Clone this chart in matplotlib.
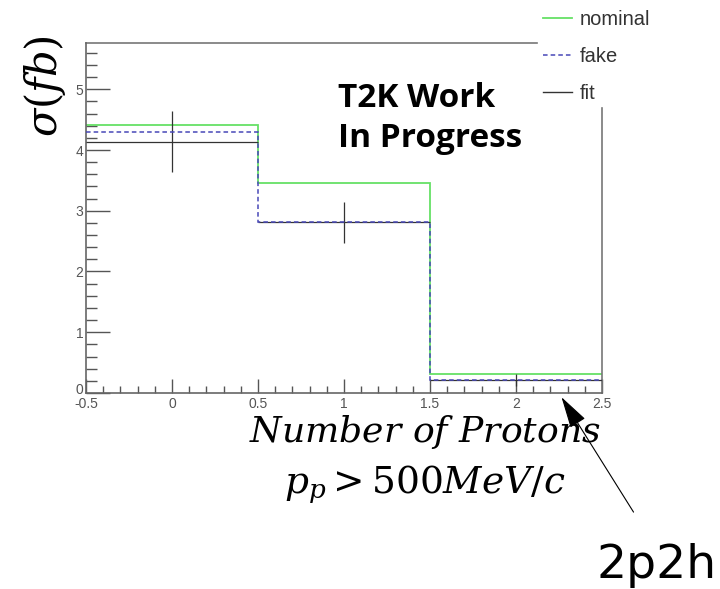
import numpy as np
import matplotlib
matplotlib.use("Agg")
import matplotlib.pyplot as plt
import matplotlib.transforms as mtransforms
from matplotlib.ticker import MultipleLocator
from matplotlib.lines import Line2D

plt.rcParams['mathtext.fontset'] = 'dejavuserif'

# bin edges and contents
bin_edges = [-0.5, 0.5, 1.5, 2.5]
bin_centers = [0, 1, 2]
nominal = [4.42, 3.46, 0.32]
fake = [4.30, 2.81, 0.21]
fit = [4.14, 2.81, 0.21]
fit_err = [0.50, 0.34, 0.10]

green = '#66e066'
blue = '#4848b8'
dark = '#333333'

fig = plt.figure(figsize=(7.2, 5.89), dpi=100)
ax = fig.add_axes([0.1194, 0.3328, 0.7167, 0.594])

ax.stairs(nominal, bin_edges, baseline=None, color=green, lw=1.3, zorder=2)
ax.errorbar(bin_centers, fit, xerr=0.5, yerr=fit_err, fmt='none', ecolor=dark,
            elinewidth=0.9, capsize=0, zorder=3)
ax.stairs(fake, bin_edges, baseline=None, color=blue, lw=1.1, ls=(0, (3, 2)), zorder=4)

ax.set_xlim(-0.5, 2.5)
ax.set_ylim(0, 5.76)

# ROOT-like axes
ax.xaxis.set_minor_locator(MultipleLocator(0.1))
ax.yaxis.set_minor_locator(MultipleLocator(0.2))
ax.set_xticks([-0.5, 0, 0.5, 1, 1.5, 2, 2.5])
ax.set_xticklabels(['-0.5', '0', '0.5', '1', '1.5', '2', '2.5'])
ax.set_yticks([0, 1, 2, 3, 4, 5])
ax.set_yticklabels(['0', '1', '2', '3', '4', '5'])
ax.tick_params(axis='both', which='both', direction='in', colors='#555555',
               labelsize=10, labelcolor='#555555', top=False, right=False)
ax.tick_params(axis='x', which='major', length=10, width=1, pad=3)
ax.tick_params(axis='x', which='minor', length=5, width=1)
ax.tick_params(axis='y', which='major', length=17, width=1, pad=2)
ax.tick_params(axis='y', which='minor', length=8, width=1)
for lab in ax.get_xticklabels() + ax.get_yticklabels():
    lab.set_family('Liberation Sans')
# lift the y "0" a little so it does not sit on "-0.5"
lab0 = ax.get_yticklabels()[0]
lab0.set_transform(lab0.get_transform() + mtransforms.ScaledTranslation(0, 3 / 72, fig.dpi_scale_trans))

for sp in ['left', 'bottom']:
    ax.spines[sp].set_color('#666666')
    ax.spines[sp].set_linewidth(1.2)
ax.spines['top'].set_visible(False)
ax.spines['right'].set_visible(False)
# the legend box cuts off the top-right corner of the frame
ax.plot([0, 0.874], [1, 1], transform=ax.transAxes, color='#777777', lw=1.2, clip_on=False)
ax.plot([1, 1], [0, 0.814], transform=ax.transAxes, color='#777777', lw=1.2, clip_on=False)

fig.text(0.469, 0.8183, 'T2K Work', ha='left', va='baseline',
         fontsize=24, fontweight='bold', family='Open Sans')
fig.text(0.469, 0.7504, 'In Progress', ha='left', va='baseline',
         fontsize=24, fontweight='bold', family='Open Sans')

handles = [Line2D([], [], color=green, lw=1.3),
           Line2D([], [], color=blue, lw=1.1, ls=(0, (3, 2))),
           Line2D([], [], color=dark, lw=1.0)]
leg = fig.legend(handles, ['nominal', 'fake', 'fit'], loc='upper left',
                 bbox_to_anchor=(0.754, 0.983), frameon=False,
                 prop={'family': 'Liberation Sans', 'size': 14.5},
                 handlelength=1.45, handletextpad=0.4, labelspacing=0.9,
                 borderaxespad=0, borderpad=0)
for t in leg.get_texts():
    t.set_color('#333333')

fig.text(0.0625, 0.854, r'$\sigma(fb)$', rotation=90, ha='center', va='center', fontsize=30)
fig.text(0.59, 0.267, r'$Number\ of\ Protons$', ha='center', va='center', fontsize=26)
fig.text(0.59, 0.177, r'$p_p > 500MeV/c$', ha='center', va='center', fontsize=27)

ax.annotate('', xy=(2.256, -0.03), xytext=(2.692, -2.0), xycoords='data', textcoords='data',
            annotation_clip=False,
            arrowprops=dict(arrowstyle='-|>,head_length=2.0,head_width=0.55', color='black', lw=0.8))
fig.text(0.829, 0.0187, '2p2h', ha='left', va='baseline', fontsize=34, family='DejaVu Sans')

fig.savefig('out.png', dpi=100)
